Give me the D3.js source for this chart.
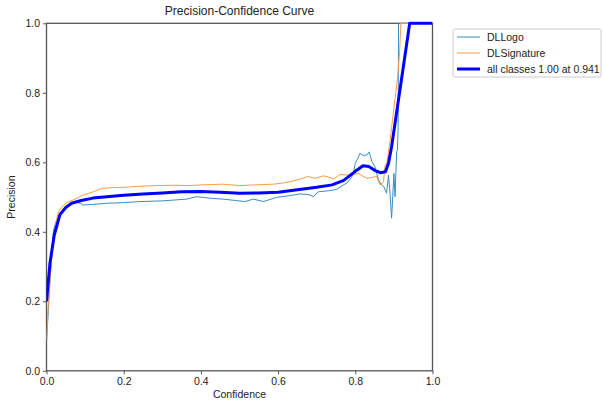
<!DOCTYPE html>
<html>
<head>
<meta charset="utf-8">
<script src="https://cdn.jsdelivr.net/npm/d3@7"></script>
<style>
  body { margin: 0; background: #fff; }
  svg text { font-family: "Liberation Sans", Arial, sans-serif; fill: #222; }
</style>
</head>
<body>
<div id="chart"></div>
<script>
// DLLogo curve
var logoConf = [0, 0.005, 0.009, 0.014, 0.018, 0.025, 0.031, 0.044, 0.061, 0.075, 0.087, 0.095, 0.12, 0.156, 0.2, 0.242, 0.3, 0.363, 0.389, 0.406, 0.43, 0.458, 0.49, 0.514, 0.536, 0.562, 0.596, 0.63, 0.657, 0.68, 0.691, 0.704, 0.73, 0.752, 0.769, 0.778, 0.79, 0.795, 0.8, 0.806, 0.812, 0.82, 0.83, 0.836, 0.843, 0.851, 0.86, 0.868, 0.874, 0.881, 0.886, 0.89, 0.894, 0.897, 0.9, 0.903, 0.907, 0.909, 0.911, 0.912, 1.0];
var logoPrec = [0.08, 0.18, 0.26, 0.34, 0.405, 0.43, 0.443, 0.463, 0.482, 0.487, 0.482, 0.477, 0.479, 0.482, 0.484, 0.487, 0.489, 0.494, 0.501, 0.499, 0.496, 0.494, 0.49, 0.487, 0.494, 0.487, 0.499, 0.504, 0.509, 0.507, 0.501, 0.515, 0.518, 0.522, 0.535, 0.54, 0.556, 0.568, 0.597, 0.61, 0.626, 0.62, 0.621, 0.63, 0.602, 0.587, 0.549, 0.535, 0.53, 0.511, 0.563, 0.511, 0.439, 0.501, 0.568, 0.501, 0.63, 0.635, 0.7, 1.0, 1.0];

// DLSignature curve
var sigConf = [0, 0.005, 0.012, 0.018, 0.025, 0.031, 0.04, 0.052, 0.07, 0.085, 0.095, 0.11, 0.121, 0.133, 0.143, 0.17, 0.199, 0.24, 0.285, 0.33, 0.372, 0.4, 0.43, 0.457, 0.48, 0.5, 0.54, 0.587, 0.61, 0.631, 0.655, 0.678, 0.696, 0.717, 0.73, 0.743, 0.76, 0.786, 0.808, 0.82, 0.83, 0.845, 0.855, 0.864, 0.873, 0.877, 0.882, 0.89, 0.894, 0.905, 0.91, 0.915, 0.918, 1.0];
var sigPrec = [0.09, 0.2, 0.3, 0.376, 0.43, 0.458, 0.472, 0.484, 0.492, 0.5, 0.506, 0.511, 0.515, 0.52, 0.525, 0.527, 0.528, 0.531, 0.533, 0.534, 0.533, 0.535, 0.536, 0.537, 0.535, 0.533, 0.535, 0.537, 0.54, 0.544, 0.551, 0.559, 0.554, 0.561, 0.558, 0.551, 0.565, 0.563, 0.568, 0.56, 0.554, 0.557, 0.559, 0.535, 0.544, 0.59, 0.6, 0.66, 0.7, 0.8, 0.85, 0.92, 1.0, 1.0];

// all classes (mean) curve
var allConf = [0, 0.009, 0.02, 0.035, 0.05, 0.065, 0.09, 0.12, 0.156, 0.2, 0.25, 0.3, 0.35, 0.4, 0.45, 0.5, 0.55, 0.6, 0.65, 0.7, 0.74, 0.77, 0.8, 0.82, 0.835, 0.85, 0.865, 0.878, 0.886, 0.894, 0.941, 1.0];
var allPrec = [0.2, 0.31, 0.39, 0.45, 0.47, 0.482, 0.49, 0.497, 0.501, 0.505, 0.509, 0.512, 0.515, 0.516, 0.514, 0.511, 0.512, 0.514, 0.521, 0.528, 0.535, 0.548, 0.574, 0.59, 0.588, 0.577, 0.57, 0.573, 0.597, 0.645, 1.0, 1.0];

var tickValues = [0, 0.2, 0.4, 0.6, 0.8, 1.0];
var seriesNames = ["DLLogo", "DLSignature", "all classes 1.00 at 0.941"];
var seriesColors = ["#3b8bc2", "#ff9a45", "#0000ff"];
var seriesWidths = [1, 1, 3];

var width = 603, height = 401;
var margin = {left: 46.5, right: 170.5, top: 23.3, bottom: 30.2};

var svg = d3.select("#chart").append("svg")
	.attr("width", width)
	.attr("height", height);

svg.append("rect").attr("width", width).attr("height", height).attr("fill", "#fff");

var x = d3.scaleLinear().domain([0, 1]).range([margin.left, width - margin.right]);
var y = d3.scaleLinear().domain([0, 1]).range([height - margin.bottom, margin.top]);

// spines
svg.append("rect")
	.attr("x", x(0)).attr("y", y(1))
	.attr("width", x(1) - x(0)).attr("height", y(0) - y(1))
	.attr("fill", "none").attr("stroke", "#555").attr("stroke-width", 1.3);

var xAxis = svg.append("g")
	.attr("transform", "translate(0," + y(0) + ")")
	.call(d3.axisBottom(x).tickValues(tickValues).tickFormat(d3.format(".1f")).tickSize(3.5).tickPadding(3));
var yAxis = svg.append("g")
	.attr("transform", "translate(" + x(0) + ",0)")
	.call(d3.axisLeft(y).tickValues(tickValues).tickFormat(d3.format(".1f")).tickSize(3.5).tickPadding(3));
[xAxis, yAxis].forEach(function(a){
	a.select(".domain").remove();
	a.selectAll(".tick line").attr("stroke", "#555");
	a.selectAll(".tick text").attr("font-size", "10.5px").attr("fill", "#222")
		.attr("font-family", "Liberation Sans, Arial, sans-serif");
});

var line = d3.line().x(d => x(d[0])).y(d => y(d[1]));
var series = [
	d3.zip(logoConf, logoPrec),
	d3.zip(sigConf, sigPrec),
	d3.zip(allConf, allPrec)
];

svg.append("clipPath").attr("id", "plotclip")
	.append("rect").attr("x", x(0)).attr("y", y(1) - 2)
	.attr("width", x(1) - x(0)).attr("height", y(0) - y(1) + 2);

series.forEach(function(s, i){
	svg.append("path")
		.datum(s)
		.attr("d", line)
		.attr("fill", "none")
		.attr("stroke", seriesColors[i])
		.attr("stroke-width", seriesWidths[i])
		.attr("stroke-linejoin", "round")
		.attr("clip-path", "url(#plotclip)");
});

// title and axis labels
svg.append("text").attr("x", (x(0) + x(1)) / 2).attr("y", 15)
	.attr("text-anchor", "middle").attr("font-size", "12px").text("Precision-Confidence Curve");
svg.append("text").attr("x", (x(0) + x(1)) / 2).attr("y", 398)
	.attr("text-anchor", "middle").attr("font-size", "10.5px").text("Confidence");
svg.append("text")
	.attr("transform", "translate(15," + ((y(0) + y(1)) / 2) + ") rotate(-90)")
	.attr("text-anchor", "middle").attr("font-size", "10.5px").text("Precision");

// legend
var lg = svg.append("g").attr("transform", "translate(453,29)");
lg.append("rect").attr("width", 148).attr("height", 48).attr("rx", 2)
	.attr("fill", "#fff").attr("stroke", "#ccc");
seriesNames.forEach(function(n, i){
	var yy = 8 + i * 16;
	lg.append("line").attr("x1", 4).attr("x2", 27).attr("y1", yy).attr("y2", yy)
		.attr("stroke", seriesColors[i]).attr("stroke-width", seriesWidths[i]);
	lg.append("text").attr("x", 34).attr("y", yy + 3.8).attr("font-size", "10.5px").text(n);
});
</script>
</body>
</html>
